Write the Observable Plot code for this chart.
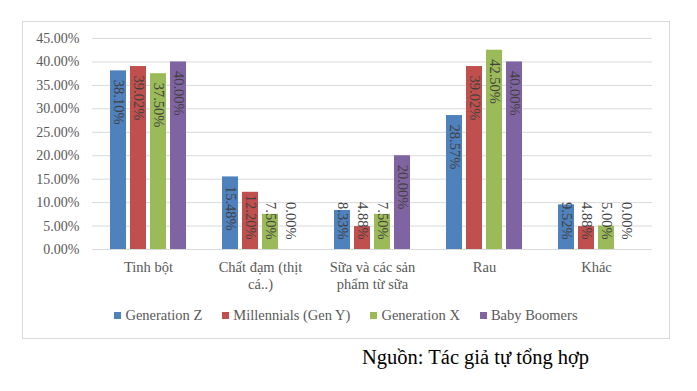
<!DOCTYPE html>
<html>
<head>
<meta charset="utf-8">
<script src="https://cdn.jsdelivr.net/npm/d3@7"></script>
<script src="https://cdn.jsdelivr.net/npm/@observablehq/plot@0.6"></script>
<style>
  body { margin: 0; background: #fff; }
  #wrap { position: relative; width: 697px; height: 391px; background: #fff; overflow: hidden; }
  #frame { position: absolute; left: 22px; top: 21px; width: 646px; height: 316px; border: 1px solid #d9d9d9; }
  #chart { position: absolute; left: 0; top: 0; }
  #legend { position: absolute; left: 22px; top: 307px; width: 648px; display: flex; justify-content: center; gap: 20px;
            font-family: "Liberation Serif", serif; font-size: 14.5px; color: #595959; }
  #legend .item { display: flex; align-items: center; gap: 4px; white-space: nowrap; }
  #legend .sw { width: 7px; height: 7px; display: inline-block; }
  #source { position: absolute; left: 362px; top: 346px; font-family: "Liberation Serif", "Times New Roman", serif; font-size: 20.5px; color: #000; white-space: nowrap; }
</style>
</head>
<body>
<div id="wrap">
  <div id="frame"></div>
  <div id="chart"></div>
  <div id="legend"></div>
  <div id="source">Nguồn: Tác giả tự tổng hợp</div>
</div>
<script>
const categories = ["Tinh bột", "Chất đạm (thịt\ncá..)", "Sữa và các sản\nphẩm từ sữa", "Rau", "Khác"];
const series = ["Generation Z", "Millennials (Gen Y)", "Generation X", "Baby Boomers"];
const genZ = [38.10, 15.48, 8.33, 28.57, 9.52];
const millennials = [39.02, 12.20, 4.88, 39.02, 4.88];
const genX = [37.50, 7.50, 7.50, 42.50, 5.00];
const boomers = [40.00, 0.00, 20.00, 40.00, 0.00];
const yTicks = [0, 5, 10, 15, 20, 25, 30, 35, 40, 45];
const colors = ["#4F81BD", "#C0504D", "#9BBB59", "#8064A2"];

const values = [genZ, millennials, genX, boomers];
const data = [];
categories.forEach((c, i) => {
  series.forEach((s, j) => data.push({category: c, series: s, value: values[j][i]}));
});
const fmt = v => v.toFixed(2) + "%";
const big = data.filter(d => d.value >= 13.5);
const small = data.filter(d => d.value < 13.5);

const chart = Plot.plot({
  width: 697,
  height: 300,
  marginLeft: 92,
  marginRight: 45,
  marginTop: 38,
  marginBottom: 51,
  style: {fontFamily: "'Liberation Serif', serif", background: "transparent"},
  fx: {domain: categories, padding: 0, label: null, axis: null},
  x: {domain: series, paddingInner: 0.2, paddingOuter: 0.9, axis: null},
  y: {domain: [0, 45], axis: null},
  color: {domain: series, range: colors},
  marks: [
    Plot.ruleY(yTicks, {stroke: "#d9d9d9", strokeWidth: 1}),
    Plot.barY(data, {fx: "category", x: "series", y: "value", fill: "series"}),
    Plot.text(big, {fx: "category", x: "series", y: "value", text: d => fmt(d.value), rotate: 90,
      textAnchor: "start", lineAnchor: "middle", dy: 9, fill: "#404040", fontSize: 14.5}),
    Plot.text(small, {fx: "category", x: "series", y: () => 0, text: d => fmt(d.value), rotate: 90,
      textAnchor: "end", lineAnchor: "middle", dy: -10, fill: "#404040", fontSize: 14.5}),
    Plot.axisY(yTicks, {tickSize: 0, tickPadding: 13, tickFormat: d => d.toFixed(2) + "%", fontSize: 14, fill: "#595959", label: null}),
    Plot.axisFx({anchor: "bottom", tickSize: 0, tickPadding: 10, fontSize: 14.5, fill: "#595959", lineHeight: 1.2, label: null})
  ]
});
document.getElementById("chart").appendChild(chart);

const legend = document.getElementById("legend");
series.forEach((s, i) => {
  const item = document.createElement("div");
  item.className = "item";
  const sw = document.createElement("span");
  sw.className = "sw";
  sw.style.background = colors[i];
  item.appendChild(sw);
  const t = document.createElement("span");
  t.textContent = s;
  item.appendChild(t);
  legend.appendChild(item);
});
</script>
</body>
</html>
